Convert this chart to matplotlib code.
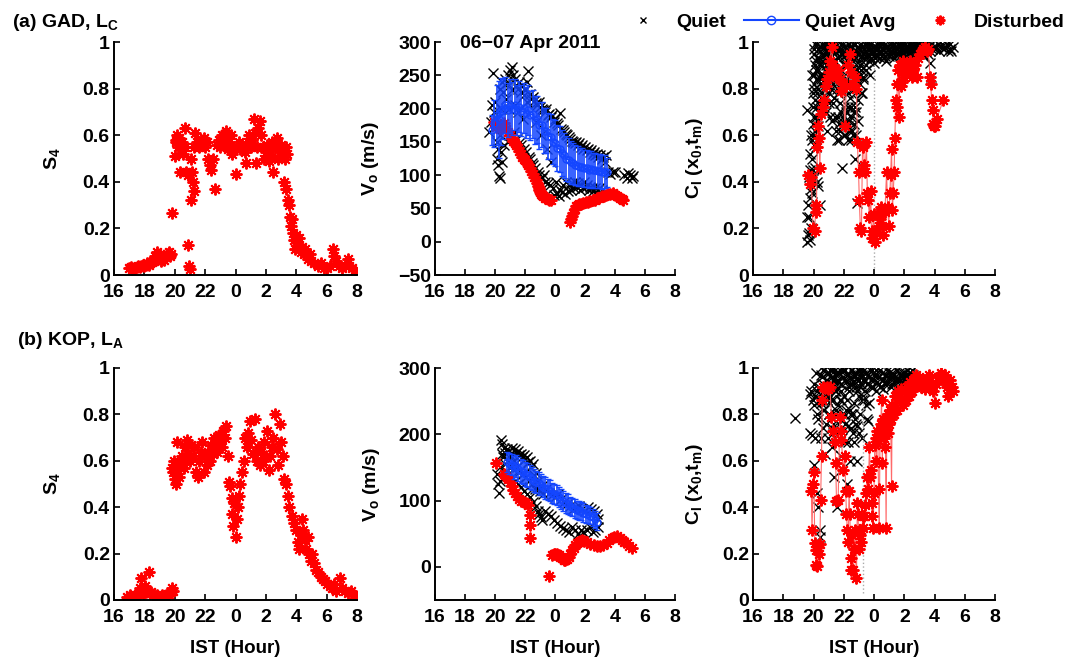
import numpy as np
import matplotlib
matplotlib.use("Agg")
import matplotlib.pyplot as plt
from matplotlib.lines import Line2D

plt.rcParams['font.family'] = ['Liberation Sans', 'DejaVu Sans']
plt.rcParams['font.weight'] = 'bold'
plt.rcParams['axes.labelweight'] = 'bold'
plt.rcParams['mathtext.fontset'] = 'custom'
plt.rcParams['mathtext.rm'] = 'Liberation Sans:bold'
plt.rcParams['mathtext.it'] = 'Liberation Sans:bold'
plt.rcParams['mathtext.bf'] = 'Liberation Sans:bold'
plt.rcParams['mathtext.default'] = 'bf'

# ---------------- data (time in IST hours, 24 = midnight) ----------------
xticks = [16, 18, 20, 22, 24, 26, 28, 30, 32]
xtick_labels = ['16', '18', '20', '22', '0', '2', '4', '6', '8']

# (a) GAD  S4 disturbed
gad_s4 = [(17.0,0.03),(17.1,0.035),(17.2,0.025),(17.3,0.03),(17.4,0.03),(17.5,0.035),(17.6,0.04),(17.7,0.035),
 (17.8,0.04),(17.9,0.045),(18.0,0.04),(18.1,0.045),(18.2,0.05),(18.3,0.045),(18.4,0.05),(18.5,0.055),(18.6,0.06),
 (18.7,0.08),(18.8,0.1),(18.9,0.07),(19.0,0.09),(19.1,0.06),(19.2,0.07),(19.3,0.065),(19.4,0.08),(19.5,0.09),
 (19.6,0.1),(19.7,0.08),(19.75,0.09),(19.8,0.265),(20.0,0.51),(20.05,0.57),(20.1,0.58),(20.15,0.6),(20.2,0.55),
 (20.3,0.59),(20.35,0.44),(20.4,0.56),(20.5,0.57),(20.55,0.52),(20.65,0.63),(20.7,0.55),(20.75,0.44),(20.85,0.43),
 (20.9,0.13),(20.95,0.04),(21.0,0.025),(21.05,0.32),(21.1,0.5),(21.15,0.44),(21.2,0.4),(21.25,0.36),(21.3,0.55),
 (21.35,0.61),(21.45,0.57),(21.6,0.55),(21.7,0.58),(21.8,0.56),(21.9,0.59),(22.0,0.55),(22.1,0.57),(22.2,0.5),
 (22.3,0.47),(22.4,0.45),(22.5,0.5),(22.65,0.37),(22.8,0.56),(22.9,0.58),(23.0,0.55),(23.1,0.6),(23.2,0.56),
 (23.3,0.58),(23.4,0.62),(23.5,0.54),(23.6,0.57),(23.7,0.6),(23.8,0.52),(24.0,0.435),(24.1,0.55),(24.2,0.57),
 (24.3,0.54),(24.4,0.56),(24.5,0.55),(24.6,0.53),(24.7,0.48),(24.8,0.57),(24.9,0.6),(25.0,0.55),(25.1,0.58),
 (25.2,0.67),(25.3,0.61),(25.35,0.48),(25.4,0.55),(25.5,0.63),(25.6,0.66),(25.7,0.6),(25.8,0.55),(25.9,0.5),
 (26.0,0.53),(26.1,0.56),(26.2,0.49),(26.3,0.52),(26.4,0.57),(26.5,0.44),(26.6,0.55),(26.7,0.59),(26.8,0.5),
 (26.9,0.53),(27.0,0.56),(27.1,0.52),(27.2,0.4),(27.25,0.5),(27.3,0.55),(27.35,0.37),(27.4,0.52),(27.45,0.32),
 (27.5,0.3),(27.6,0.25),(27.65,0.21),(27.7,0.24),(27.8,0.18),(27.85,0.15),(27.9,0.11),(28.0,0.17),(28.1,0.13),
 (28.2,0.16),(28.3,0.1),(28.4,0.12),(28.5,0.09),(28.6,0.11),(28.7,0.08),(28.8,0.07),(28.9,0.09),(29.0,0.06),
 (29.2,0.05),(29.4,0.04),(29.6,0.05),(29.8,0.03),(30.0,0.03),(30.2,0.04),(30.4,0.11),(30.5,0.08),(30.6,0.06),
 (30.8,0.04),(31.0,0.03),(31.2,0.04),(31.4,0.07),(31.5,0.04),(31.7,0.03),(31.9,0.02)]

# (a) GAD  drift velocity, quiet days
gad_vq = [(19.6,165),(19.75,180),(19.8,205),(19.9,253),(19.95,195),(20.0,210),(20.05,175),(20.1,150),(20.1,125),
 (20.15,185),(20.2,140),(20.2,115),(20.25,98),(20.3,95),(20.3,230),(20.35,160),(20.4,200),(20.4,135),(20.5,240),
 (20.5,120),(20.55,225),(20.6,145),(20.7,245),(20.75,215),(20.8,238),(20.85,150),(20.9,250),(20.95,200),
 (21.0,258),(21.05,160),(21.1,263),(21.15,228),(21.2,250),(21.25,165),(21.3,244),(21.35,205),(21.4,235),
 (21.45,155),(21.5,230),(21.55,195),(21.6,240),(21.65,150),(21.7,225),(21.75,145),(21.8,235),(21.85,185),
 (21.9,220),(21.95,140),(22.0,228),(22.05,135),(22.1,240),(22.15,210),(22.2,256),(22.25,128),(22.3,222),
 (22.35,125),(22.4,215),(22.45,118),(22.5,218),(22.55,115),(22.6,212),(22.65,110),(22.7,208),(22.75,180),
 (22.8,205),(22.85,105),(22.9,210),(22.95,100),(23.0,202),(23.05,160),(23.1,200),(23.15,95),(23.2,198),
 (23.25,100),(23.3,195),(23.35,90),(23.4,200),(23.45,140),(23.5,190),(23.55,88),(23.6,192),(23.65,85),
 (23.7,188),(23.75,120),(23.8,190),(23.85,80),(23.9,180),(23.95,70),(24.0,185),(24.05,90),(24.1,178),
 (24.15,72),(24.2,175),(24.25,68),(24.3,193),(24.35,78),(24.4,170),(24.45,74),(24.5,168),(24.55,85),(24.6,165),
 (24.65,72),(24.7,162),(24.75,90),(24.8,160),(24.85,76),(24.9,158),(24.95,85),(25.0,155),(25.05,78),(25.1,152),
 (25.15,88),(25.2,150),(25.25,80),(25.3,148),(25.35,90),(25.4,150),(25.45,82),(25.5,145),(25.55,88),(25.6,148),
 (25.65,78),(25.7,142),(25.75,85),(25.8,145),(25.85,80),(25.9,140),(25.95,90),(26.0,143),(26.05,82),(26.1,138),
 (26.15,85),(26.2,140),(26.25,78),(26.3,135),(26.35,82),(26.4,138),(26.45,80),(26.5,132),(26.55,76),(26.6,135),
 (26.65,80),(26.7,130),(26.75,75),(26.8,132),(26.85,78),(26.9,128),(26.95,80),(27.0,130),(27.1,125),(27.15,78),
 (27.2,128),(27.3,120),(27.4,130),(27.5,105),(27.7,102),(27.9,105),(28.0,104),(28.6,100),(28.8,95),(28.9,103),
 (29.0,100),(29.1,95),(29.2,98)]

gad_avg_t = [19.8,19.95,20.1,20.25,20.4,20.55,20.7,20.85,21.0,21.15,21.3,21.45,21.6,21.75,21.9,22.05,22.2,22.35,
 22.5,22.65,22.8,22.95,23.1,23.25,23.4,23.55,23.7,23.85,24.0,24.15,24.3,24.45,24.6,24.75,24.9,25.05,25.2,25.35,
 25.5,25.65,25.8,25.95,26.1,26.25,26.4,26.55,26.7,26.85,27.0,27.15,27.3,27.45]
gad_avg_v = [168,178,190,184,196,200,206,198,204,200,206,198,203,197,201,194,198,190,192,183,184,175,176,167,167,
 159,158,150,148,141,139,133,130,125,123,119,118,115,114,112,112,110,110,108,109,107,107,106,106,105,105,104]
gad_avg_e = [22,35,45,58,50,45,42,40,40,40,38,38,38,38,38,38,37,37,36,36,35,35,34,34,34,34,34,34,35,35,35,35,34,34,
 33,32,31,30,30,29,29,28,28,28,27,27,27,26,26,26,25,22]

gad_vd = [(19.95,180),(20.05,172),(20.15,176),(20.3,170),(20.45,174),(20.6,178),(20.75,170),(20.9,165),
 (21.0,160),(21.1,156),(21.2,152),(21.3,148),(21.4,145),(21.5,141),(21.6,137),(21.7,132),(21.8,128),(21.9,125),
 (22.0,122),(22.1,118),(22.2,115),(22.3,110),(22.4,106),(22.5,101),(22.6,97),(22.7,92),(22.8,88),(22.85,84),
 (22.9,80),(22.95,77),(23.0,75),(23.05,72),(23.1,70),(23.2,68),(23.3,66),(23.4,65),(23.5,64),(23.6,63),(23.7,63),
 (25.0,30),(25.05,34),(25.1,38),(25.2,43),(25.3,49),(25.4,53),(25.5,55),(25.6,56),(25.75,57),(25.9,58),(26.05,59),
 (26.2,60),(26.35,61),(26.5,62),(26.65,63),(26.8,65),(26.95,66),(27.1,68),(27.25,69),(27.4,70),(27.55,71),
 (27.7,72),(27.85,73),(28.0,70),(28.15,68),(28.3,66),(28.45,64),(28.55,62)]

# (a) GAD  correlation, quiet days
gad_cq = [(19.55,0.71),(19.6,0.14),(19.65,0.17),(19.7,0.42),(19.72,0.25),(19.75,0.33),(19.8,0.15),(19.82,0.37),
 (19.85,0.2),(19.88,0.5),(19.9,0.41),(19.92,0.58),(19.95,0.65),(19.97,0.72),(20.0,0.8),(20.02,0.86),(20.05,0.6),
 (20.08,0.9),(20.1,0.46),(20.12,0.75),(20.15,0.68),(20.18,0.55),(20.2,0.84),(20.22,0.4),(20.25,0.78),(20.28,0.64),
 (20.3,0.88),(20.32,0.38),(20.35,0.93),(20.38,0.7),(20.4,0.3),(20.42,0.82),(20.45,0.96),(20.5,0.76),(20.55,0.99),
 (20.6,0.86),(20.65,0.92),(20.7,0.8),(20.75,0.97),(20.8,0.88),(20.85,0.95),(20.9,0.99),(20.95,0.84),(21.0,0.93),
 (21.05,0.78),(21.1,0.98),(21.15,0.9),(21.2,0.66),(21.25,0.96),(21.3,0.82),(21.35,0.99),(21.4,0.68),(21.45,0.92),
 (21.5,0.86),(21.55,0.58),(21.6,0.97),(21.65,0.78),(21.7,0.94),(21.75,0.62),(21.8,0.99),(21.85,0.88),(21.9,0.46),
 (21.95,0.95),(22.0,0.72),(22.05,0.98),(22.1,0.6),(22.15,0.9),(22.2,0.84),(22.25,0.99),(22.3,0.64),(22.35,0.93),
 (22.4,0.76),(22.45,0.97),(22.5,0.58),(22.55,0.88),(22.6,0.99),(22.65,0.7),(22.7,0.94),(22.75,0.5),(22.8,0.86),
 (22.85,0.98),(22.9,0.31),(22.95,0.75),(23.0,0.92),(23.05,0.82),(23.1,0.97),(23.15,0.88),(23.2,0.78),(23.25,0.95),
 (23.3,0.85),(23.4,0.99),(23.45,0.9),(23.5,0.94),(23.6,0.97),(23.7,0.92),(23.8,0.99),(23.9,0.95),(24.0,0.91),
 (24.1,0.98),(24.2,0.94),(24.3,0.99),(24.4,0.93),(24.5,0.97),(24.6,0.95),(24.7,0.99),(24.8,0.92),(24.9,0.97),
 (25.0,0.94),(25.1,0.99),(25.2,0.96),(25.3,0.93),(25.4,0.98),(25.5,0.95),(25.6,0.99),(25.7,0.94),(25.8,0.97),
 (25.9,0.99),(26.0,0.95),(26.1,0.98),(26.2,0.93),(26.3,0.99),(26.4,0.96),(26.5,0.98),(26.6,0.94),(26.7,0.99),
 (26.8,0.97),(26.9,0.95),(27.0,0.99),(27.1,0.96),(27.2,0.98),(27.3,0.94),(27.4,0.99),(27.5,0.97),(27.6,0.95),
 (27.7,0.91),(27.75,0.85),(27.8,0.99),(27.9,0.98),(28.0,0.97),(28.2,0.99),(28.4,0.98),(28.6,0.97),(28.8,0.99),
 (29.0,0.97),(29.1,0.96),(29.2,0.98),
 (20.05,0.97),(20.15,0.92),(20.25,0.99),(20.35,0.85),(20.45,0.9),(20.6,0.95),(20.7,0.72),(20.85,0.9),(20.95,0.96),
 (21.05,0.87),(21.2,0.94),(21.3,0.74),(21.45,0.98),(21.6,0.85),(21.7,0.65),(21.85,0.97),(22.0,0.9),(22.1,0.8),
 (22.2,0.95),(22.3,0.72),(22.4,0.88),(22.5,0.68),(22.6,0.92),(22.7,0.82),(22.8,0.6),(22.9,0.95),(23.0,0.86),
 (23.1,0.9),(23.2,0.98),(23.35,0.93),(23.5,0.88),(23.65,0.99),(23.75,0.86),(23.85,0.96),(24.05,0.93),(24.25,0.97),
 (24.45,0.99),(24.65,0.93),(24.85,0.98),(25.05,0.96),(25.25,0.99),(25.45,0.97),(25.65,0.95),(25.85,0.99),
 (26.05,0.97),(26.25,0.95),(26.45,0.99),(26.65,0.97),(26.85,0.99),(27.05,0.97),(27.25,0.96),(27.45,0.98),
 (20.02,0.95),(20.12,0.99),(20.22,0.93),(20.32,0.97),(20.42,0.91),(20.52,0.98),(20.62,0.94),(20.72,0.99),
 (20.82,0.92),(20.92,0.96),(21.02,0.99),(21.12,0.94),(21.22,0.98),(21.32,0.92),(21.42,0.96),(21.52,0.99),
 (21.62,0.93),(21.72,0.97),(21.82,0.95),(21.92,0.99),(22.02,0.94),(22.12,0.97),(22.22,0.92),(22.32,0.99),
 (22.42,0.95),(22.52,0.98),(22.62,0.93),(22.72,0.99),(22.82,0.96),(22.92,0.98),(23.02,0.95),(23.12,0.99),
 (23.22,0.94),(23.32,0.97),(23.42,0.96),(23.52,0.99),(23.62,0.94),(23.72,0.97),(23.82,0.93),(23.92,0.98),
 (24.02,0.96),(24.12,0.94),(24.22,0.99),(24.32,0.96),(24.42,0.95),(24.52,0.99),(24.62,0.97),(24.72,0.94),
 (24.82,0.98),(24.92,0.95),(25.02,0.97),(25.12,0.95),(25.22,0.98),(25.32,0.99),(25.42,0.95),(25.52,0.97),
 (25.62,0.96),(25.72,0.99),(25.82,0.95),(25.92,0.97),(26.02,0.99),(26.12,0.96),(26.22,0.98),(26.32,0.95),
 (26.42,0.97),(26.52,0.99),(26.62,0.96),(26.72,0.95),(26.82,0.98),(26.92,0.99),(27.02,0.96),(27.12,0.98),
 (27.22,0.95),(27.32,0.97),(27.42,0.96),(27.52,0.99),(27.62,0.98),(27.72,0.96),(27.82,0.97),(28.1,0.98),
 (28.3,0.96),(28.5,0.99),(28.7,0.98),(28.9,0.96),(29.05,0.99),
 (19.9,0.86),(19.95,0.78),(20.0,0.68),(20.05,0.82),(20.1,0.62),(20.15,0.88),(20.2,0.72),(20.25,0.66),(20.3,0.8),
 (20.35,0.74),(20.4,0.86),(20.45,0.7),(20.5,0.84),(20.55,0.78),(20.6,0.72),(20.65,0.86),(20.75,0.84),(20.85,0.76),
 (20.95,0.9),(21.05,0.86),(21.15,0.8),(21.25,0.88),(21.35,0.76),(21.45,0.84),(21.55,0.8),(21.65,0.88),(21.75,0.74),
 (21.85,0.8),(21.95,0.68),(22.05,0.84),(22.15,0.7),(22.25,0.78),(22.35,0.66),(22.45,0.82),(22.55,0.62),(22.65,0.8),
 (22.75,0.72),(22.85,0.88),(22.95,0.66),(23.05,0.9),(23.15,0.78),(23.25,0.84),
 (19.6,0.25),(19.65,0.3),(19.7,0.18),(19.75,0.45),(19.8,0.52),(19.85,0.6),(19.9,0.35),(19.95,0.45),(20.0,0.56),
 (20.05,0.42),
 (20.8,0.7),(20.9,0.62),(21.0,0.74),(21.1,0.68),(21.5,0.62),(21.6,0.68),(21.7,0.58),(21.8,0.7),(21.9,0.64),
 (22.0,0.6),(22.1,0.66),(22.2,0.7),(22.3,0.58),(22.4,0.62),(22.5,0.72),(22.6,0.6),(22.7,0.65),(22.8,0.7)]

gad_cd = [(19.64,0.43),(19.75,0.39),(19.85,0.42),(19.97,0.2),(20.08,0.19),(20.15,0.3),(20.19,0.27),(20.25,0.55),
 (20.3,0.64),(20.36,0.59),(20.42,0.46),(20.5,0.69),(20.6,0.72),(20.7,0.75),(20.8,0.81),(20.9,0.84),(21.0,0.87),
 (21.1,0.92),(21.2,0.98),(21.3,0.9),(21.42,0.86),(21.52,0.85),(21.63,0.88),(21.74,0.84),(21.85,0.79),(21.96,0.82),
 (22.07,0.64),(22.18,0.81),(22.29,0.9),(22.4,0.95),(22.51,0.87),(22.62,0.82),(22.73,0.85),(22.84,0.8),
 (22.9,0.57),(22.98,0.44),(23.03,0.32),(23.1,0.2),(23.17,0.19),(23.24,0.55),(23.3,0.56),(23.36,0.47),
 (23.42,0.44),(23.5,0.57),(23.56,0.35),(23.62,0.32),(23.7,0.25),(23.78,0.36),(23.84,0.16),(23.9,0.19),
 (23.98,0.26),(24.06,0.14),(24.14,0.18),(24.22,0.26),(24.3,0.21),(24.38,0.24),(24.46,0.29),(24.54,0.21),
 (24.62,0.17),(24.72,0.27),(24.83,0.44),(24.9,0.29),(24.98,0.21),(25.05,0.35),(25.1,0.43),(25.16,0.54),
 (25.22,0.28),(25.27,0.35),(25.33,0.44),(25.38,0.59),(25.44,0.75),(25.49,0.72),(25.55,0.82),(25.6,0.88),
 (25.66,0.68),(25.71,0.9),(25.77,0.81),(25.82,0.87),(25.88,0.83),(25.93,0.92),(26.0,0.85),(26.07,0.89),
 (26.15,0.87),(26.25,0.9),(26.38,0.92),(26.5,0.85),(26.6,0.88),(26.72,0.9),(26.82,0.85),(26.93,0.93),
 (27.05,0.95),(27.15,0.96),(27.27,0.97),(27.37,0.98),(27.48,0.96),(27.59,0.97),(27.7,0.85),(27.75,0.82),
 (27.81,0.75),(27.87,0.71),(27.92,0.65),(27.97,0.64),(28.03,0.64),(28.14,0.67),(28.58,0.75)]

# (b) KOP  S4 disturbed
kop_s4 = [(16.85,0.015),(16.95,0.01),(17.05,0.02),(17.15,0.01),(17.25,0.015),(17.35,0.02),(17.45,0.015),
 (17.55,0.025),(17.65,0.03),(17.7,0.05),(17.8,0.094),(17.85,0.04),(17.95,0.03),(18.05,0.06),(18.1,0.035),
 (18.2,0.04),(18.3,0.12),(18.35,0.03),(18.45,0.035),(18.55,0.02),(18.65,0.025),(18.75,0.015),(18.85,0.02),
 (18.95,0.01),(19.05,0.015),(19.15,0.02),(19.25,0.01),(19.35,0.015),(19.45,0.02),(19.55,0.025),(19.65,0.02),
 (19.75,0.035),(19.85,0.05),(19.9,0.04),(19.85,0.57),(19.9,0.55),(19.95,0.6),(20.0,0.52),(20.05,0.58),
 (20.1,0.5),(20.15,0.68),(20.2,0.56),(20.3,0.53),(20.4,0.59),(20.5,0.62),(20.6,0.57),(20.7,0.66),(20.8,0.69),
 (20.9,0.63),(21.0,0.6),(21.1,0.67),(21.2,0.62),(21.3,0.66),(21.4,0.55),(21.5,0.53),(21.6,0.6),(21.7,0.64),
 (21.8,0.68),(21.9,0.55),(22.0,0.62),(22.1,0.58),(22.2,0.64),(22.3,0.6),(22.4,0.67),(22.5,0.63),(22.6,0.7),
 (22.7,0.66),(22.8,0.64),(22.9,0.71),(23.0,0.68),(23.1,0.66),(23.2,0.73),(23.3,0.7),(23.4,0.75),(23.5,0.62),
 (23.55,0.51),(23.65,0.49),(23.75,0.44),(23.8,0.37),(23.85,0.32),(23.9,0.42),(24.0,0.27),(24.1,0.35),
 (24.15,0.4),(24.25,0.45),(24.3,0.5),(24.45,0.55),(24.55,0.6),(24.65,0.7),(24.75,0.66),(24.85,0.72),
 (24.95,0.77),(25.05,0.69),(25.15,0.63),(25.3,0.78),(25.4,0.6),(25.5,0.66),(25.6,0.58),(25.7,0.64),(25.8,0.6),
 (25.9,0.68),(26.0,0.62),(26.1,0.73),(26.2,0.56),(26.3,0.62),(26.4,0.66),(26.5,0.7),(26.6,0.8),(26.7,0.65),
 (26.8,0.58),(26.9,0.76),(27.0,0.68),(27.1,0.62),(27.2,0.52),(27.3,0.5),(27.45,0.45),(27.55,0.4),(27.7,0.36),
 (27.85,0.33),(28.0,0.3),(28.1,0.25),(28.2,0.22),(28.3,0.28),(28.4,0.35),(28.45,0.3),(28.55,0.26),(28.65,0.22),
 (28.75,0.27),(28.85,0.2),(28.95,0.17),(29.05,0.2),(29.15,0.16),(29.3,0.13),(29.45,0.12),(29.6,0.1),(29.75,0.09),
 (29.9,0.08),(30.05,0.07),(30.2,0.06),(30.35,0.05),(30.5,0.07),(30.65,0.04),(30.9,0.094),(31.0,0.05),
 (31.2,0.04),(31.4,0.03),(31.6,0.04),(31.8,0.02),(31.95,0.015)]

kop_vq = [(20.15,140),(20.2,125),(20.25,112),(20.3,130),(20.35,150),(20.38,191),(20.45,185),(20.5,170),
 (20.55,165),(20.6,180),(20.65,155),(20.7,172),(20.75,145),(20.8,178),(20.85,160),(20.9,140),(20.95,175),
 (21.0,168),(21.05,150),(21.1,180),(21.15,135),(21.2,170),(21.25,160),(21.3,178),(21.35,130),(21.4,172),
 (21.45,150),(21.5,175),(21.55,125),(21.6,168),(21.65,145),(21.7,170),(21.75,120),(21.8,165),(21.85,140),
 (21.9,168),(21.95,115),(22.0,162),(22.05,135),(22.1,165),(22.15,110),(22.2,158),(22.25,130),(22.3,160),
 (22.35,105),(22.4,150),(22.45,125),(22.5,155),(22.55,98),(22.6,138),(22.65,118),(22.7,142),(22.75,92),
 (22.8,128),(22.85,85),(22.9,120),(22.95,80),(23.0,115),(23.05,75),(23.1,122),(23.15,70),(23.2,110),(23.3,85),
 (23.4,118),(23.5,80),(23.6,112),(23.7,76),(23.8,108),(23.9,70),(24.0,105),(24.1,66),(24.2,110),(24.3,62),
 (24.4,102),(24.5,58),(24.6,98),(24.7,55),(24.8,95),(24.9,52),(25.0,92),(25.1,60),(25.2,88),(25.3,55),(25.4,90),
 (25.5,50),(25.6,92),(25.7,56),(25.8,88),(25.9,52),(26.0,85),(26.1,55),(26.2,90),(26.3,60),(26.4,88),(26.5,52),
 (26.6,84),(26.7,55),(26.8,80),(26.85,60),(26.9,72)]

kop_avg_t = [20.8,20.95,21.1,21.25,21.4,21.55,21.7,21.85,22.0,22.15,22.3,22.45,22.6,22.75,22.9,23.05,23.2,23.35,
 23.5,23.65,23.8,23.95,24.1,24.25,24.4,24.55,24.7,24.85,25.0,25.15,25.3,25.45,25.6,25.75,25.9,26.05,26.2,26.35,
 26.5,26.65,26.8]
kop_avg_v = [158,156,154,150,152,147,145,143,140,138,135,133,130,128,126,124,121,119,117,115,112,110,108,105,
 103,100,97,95,92,90,88,86,85,84,82,80,79,77,75,72,68]
kop_avg_e = [15,16,16,17,17,18,18,18,18,18,18,17,17,17,17,16,16,16,16,16,15,15,15,15,15,15,15,15,14,14,14,14,14,
 14,14,14,13,13,13,13,13]

kop_vd = [(20.05,156),(20.6,140),(20.7,138),(20.8,136),(20.9,132),(21.0,128),(21.1,122),(21.2,116),(21.3,112),
 (21.45,107),(21.6,103),(21.75,100),(21.9,98),(22.05,96),(22.2,93),(22.3,78),(22.3,63),(22.35,43),
 (23.59,-14),(23.81,18),(23.92,19),(24.03,20),(24.14,19),(24.25,18),(24.36,15),(24.47,13),(24.58,11),(24.69,10),
 (24.8,12),(24.92,15),(25.03,20),(25.14,25),(25.25,29),(25.36,33),(25.47,36),(25.58,38),(25.69,39),(25.8,40),
 (25.95,39),(26.13,37),(26.35,35),(26.58,33),(26.8,32),(27.0,31),(27.23,33),(27.46,36),(27.62,40),(27.79,43),
 (27.95,45),(28.12,46),(28.3,44),(28.46,41),(28.62,38),(28.79,36),(28.95,32),(29.12,28)]

kop_cq = [(18.76,0.784),(19.75,0.89),(19.8,0.72),(19.85,0.9),(19.9,0.71),(19.95,0.86),(20.0,0.93),(20.05,0.58),
 (20.1,0.88),(20.15,0.98),(20.2,0.46),(20.25,0.8),(20.3,0.4),(20.35,0.92),(20.4,0.3),(20.45,0.27),(20.5,0.85),
 (20.55,0.96),(20.6,0.74),(20.65,0.99),(20.7,0.82),(20.75,0.63),(20.8,0.95),(20.85,0.88),(20.9,0.98),(20.95,0.7),
 (21.0,0.92),(21.05,0.8),(21.1,0.99),(21.15,0.86),(21.2,0.66),(21.25,0.96),(21.3,0.76),(21.35,0.53),(21.4,0.9),
 (21.45,0.99),(21.5,0.82),(21.55,0.4),(21.6,0.94),(21.65,0.72),(21.7,0.98),(21.75,0.86),(21.8,0.62),(21.85,0.93),
 (21.9,0.78),(21.95,0.99),(22.0,0.88),(22.05,0.68),(22.1,0.95),(22.15,0.82),(22.2,0.5),(22.25,0.97),(22.3,0.75),
 (22.35,0.9),(22.4,0.6),(22.45,0.99),(22.5,0.8),(22.55,0.93),(22.6,0.72),(22.65,0.96),(22.7,0.85),(22.75,0.78),
 (22.8,0.98),(22.85,0.9),(22.9,0.75),(22.95,0.95),(23.0,0.88),(23.05,0.97),(23.1,0.92),(23.15,0.99),(23.2,0.86),
 (23.3,0.95),(23.4,0.9),(23.5,0.98),(23.55,0.78),(23.6,0.93),(23.65,0.85),(23.7,0.96),(23.8,0.92),(23.9,0.99),
 (24.0,0.95),(24.1,0.9),(24.2,0.97),(24.3,0.93),(24.4,0.99),(24.5,0.95),(24.6,0.91),(24.7,0.97),(24.8,0.94),
 (24.9,0.99),(25.0,0.96),(25.1,0.92),(25.2,0.98),(25.3,0.94),(25.4,0.96),(25.5,0.99),(25.6,0.95),(25.7,0.97),
 (25.8,0.93),(25.9,0.98),(26.0,0.96),(26.1,0.94),(26.2,0.99),(26.3,0.96),(26.4,0.98),(26.5,0.95),(26.6,0.97),
 (20.6,0.9),(20.9,0.86),(21.2,0.93),(21.5,0.97),(21.8,0.9),(22.1,0.99),(22.4,0.93),(22.7,0.97),(23.0,0.99),
 (23.3,0.88),(23.35,0.86),(23.45,0.84),(23.6,0.77),
 (20.52,0.97),(20.62,0.93),(20.72,0.99),(20.82,0.91),(20.92,0.95),(21.02,0.98),(21.12,0.93),(21.22,0.99),
 (21.32,0.95),(21.42,0.92),(21.52,0.98),(21.62,0.95),(21.72,0.99),(21.82,0.93),(21.92,0.96),(22.02,0.99),
 (22.12,0.94),(22.22,0.97),(22.32,0.92),(22.42,0.96),(22.52,0.99),(22.62,0.94),(22.72,0.97),(22.82,0.92),
 (22.92,0.99),(23.02,0.95),(23.12,0.93),(23.22,0.97),(23.32,0.99),(23.42,0.95),(23.52,0.93),(23.62,0.97),
 (23.72,0.99),(23.82,0.95),(23.92,0.92),(24.02,0.97),(24.12,0.99),(24.22,0.94),(24.32,0.96),(24.42,0.92),
 (24.52,0.98),(24.62,0.95),(24.72,0.93),(24.82,0.97),(24.92,0.94),(25.02,0.98),(25.12,0.96),(25.22,0.93),
 (25.32,0.97),(25.42,0.95),(25.52,0.92),(25.62,0.98),(25.72,0.95),(25.82,0.97),(25.92,0.94),(26.02,0.98),
 (26.12,0.96),(26.22,0.93),(26.32,0.97),(26.42,0.95),(26.52,0.99),
 (20.05,0.84),(20.1,0.7),(20.2,0.9),(20.3,0.78),(20.4,0.86),(20.5,0.7),(20.6,0.82),(20.7,0.9),(20.8,0.76),
 (20.9,0.86),(21.0,0.8),(21.1,0.88),(21.2,0.74),(21.3,0.86),(21.4,0.8),(21.5,0.9),(21.6,0.84),(21.7,0.76),
 (21.8,0.86),(21.9,0.7),(22.0,0.8),(22.1,0.76),(22.2,0.86),(22.3,0.68),(22.4,0.82),(22.5,0.74),(22.6,0.8),
 (22.7,0.68),(22.8,0.76),(22.9,0.6),(23.0,0.72),(23.1,0.8),(23.2,0.7)]

kop_cd = [(19.86,0.47),(19.9,0.3),(19.97,0.5),(20.03,0.55),(20.08,0.245),(20.14,0.216),(20.19,0.15),(20.25,0.145),
 (20.3,0.23),(20.36,0.2),(20.42,0.24),(20.47,0.43),(20.53,0.62),(20.58,0.86),(20.64,0.92),(20.75,0.915),
 (20.86,0.92),(20.97,0.91),(21.08,0.92),(21.19,0.79),(21.3,0.73),(21.41,0.68),(21.47,0.59),(21.52,0.425),
 (21.63,0.43),(21.74,0.79),(21.8,0.73),(21.85,0.69),(21.96,0.56),(22.07,0.62),(22.13,0.47),(22.18,0.37),
 (22.24,0.3),(22.29,0.25),(22.35,0.47),(22.4,0.37),(22.46,0.18),(22.51,0.13),(22.57,0.28),(22.62,0.13),
 (22.68,0.22),(22.73,0.3),(22.84,0.095),(22.9,0.42),(22.95,0.37),(23.0,0.22),(23.06,0.28),(23.12,0.3),
 (23.17,0.25),(23.25,0.36),(23.3,0.31),(23.36,0.36),(23.42,0.41),(23.48,0.46),(23.55,0.53),(23.62,0.48),
 (23.7,0.66),(23.75,0.53),(23.8,0.56),(23.85,0.42),(23.9,0.36),(23.95,0.31),(24.0,0.46),(24.05,0.67),
 (24.1,0.7),(24.15,0.6),(24.2,0.73),(24.25,0.69),(24.3,0.48),(24.35,0.31),(24.4,0.73),(24.45,0.76),(24.5,0.86),
 (24.55,0.59),(24.6,0.78),(24.65,0.7),(24.7,0.66),(24.75,0.74),(24.8,0.31),(24.85,0.79),(24.9,0.72),
 (24.95,0.8),(25.0,0.76),(25.05,0.82),(25.1,0.78),(25.16,0.49),(25.2,0.84),(25.3,0.8),(25.4,0.88),(25.5,0.82),
 (25.6,0.9),(25.7,0.86),(25.8,0.91),(25.9,0.84),(26.0,0.9),(26.1,0.86),(26.2,0.92),(26.3,0.88),(26.4,0.94),
 (26.5,0.9),(26.6,0.95),(26.7,0.92),(26.8,0.97),(26.9,0.93),(27.0,0.96),(27.1,0.92),(27.2,0.95),(27.35,0.91),
 (27.5,0.94),(27.65,0.97),(27.8,0.93),(27.9,0.9),(28.03,0.85),(28.1,0.93),(28.25,0.96),(28.4,0.98),
 (28.55,0.95),(28.7,0.97),(28.8,0.92),(28.91,0.88),(29.0,0.95),(29.13,0.92),(29.2,0.9)]

# reference (midnight) dotted lines in the correlation panels
gad_ref_t = 24.0
kop_ref_t = 23.3

# ---------------- styling ----------------
RED = '#ff0000'
RED_LINE = '#ff6a6a'
BLUE = '#1446ff'
AST = (8, 2, 0)
FS = 14

fig = plt.figure(figsize=(10.81, 6.64), dpi=100)
W, H = 1081, 664

def ax_at(x0, x1, ytop, ybot):
    return fig.add_axes([x0 / W, 1 - ybot / H, (x1 - x0) / W, (ybot - ytop) / H])

def style(ax, ylim, yticks, ylabels, ylabel, labelpad):
    ax.set_xlim(16, 32)
    ax.set_ylim(*ylim)
    ax.set_xticks(xticks)
    ax.set_xticklabels(xtick_labels)
    ax.set_yticks(yticks)
    ax.set_yticklabels(ylabels)
    for s in ('top', 'right'):
        ax.spines[s].set_visible(False)
    for s in ('left', 'bottom'):
        ax.spines[s].set_linewidth(1.4)
    ax.tick_params(direction='in', length=4, width=1.2, labelsize=FS)
    ax.tick_params(axis='x', pad=6.5)
    ax.tick_params(axis='y', pad=3)
    ax.set_ylabel(ylabel, fontsize=FS, labelpad=labelpad)

def unzip(pairs):
    a = np.array(pairs, dtype=float)
    return a[:, 0], a[:, 1]

s4_ticks = [0, 0.2, 0.4, 0.6, 0.8, 1]
s4_labels = ['0', '0.2', '0.4', '0.6', '0.8', '1']

rows = [
    dict(ytop=42, ybot=275, s4=gad_s4, vq=gad_vq, at=gad_avg_t, av=gad_avg_v, ae=gad_avg_e, vd=gad_vd,
         cq=gad_cq, cd=gad_cd, ref=gad_ref_t,
         vticks=[-50, 0, 50, 100, 150, 200, 250, 300],
         vlabels=['\u221250', '0', '50', '100', '150', '200', '250', '300']),
    dict(ytop=368, ybot=600, s4=kop_s4, vq=kop_vq, at=kop_avg_t, av=kop_avg_v, ae=kop_avg_e, vd=kop_vd,
         cq=kop_cq, cd=kop_cd, ref=kop_ref_t,
         vticks=[0, 100, 200, 300], vlabels=['0', '100', '200', '300']),
]

for i, r in enumerate(rows):
    a1 = ax_at(114, 357, r['ytop'], r['ybot'])
    a2 = ax_at(435, 675, r['ytop'], r['ybot'])
    a3 = ax_at(753, 995, r['ytop'], r['ybot'])

    t, v = unzip(r['s4'])
    a1.plot(t, v, ls='none', marker=AST, ms=8.5, mew=1.4, color=RED)
    style(a1, (0, 1), s4_ticks, s4_labels, 'S$_4$', 15)

    t, v = unzip(r['vq'])
    a2.plot(t, v, ls='none', marker='x', ms=7, mew=1.0, color='k')
    t, v = unzip(r['vd'])
    a2.plot(t, v, ls='none', marker=AST, ms=8.5, mew=1.4, color=RED)
    a2.errorbar(r['at'], r['av'], yerr=r['ae'], color=BLUE, marker='o', mfc='none', ms=5, mew=1.0,
                lw=1.2, elinewidth=1.2, capsize=2.5, capthick=1.2)
    style(a2, (-50, 300), r['vticks'], r['vlabels'], 'V$_o$ (m/s)', 12)

    t, v = unzip(r['cq'])
    a3.plot(t, v, ls='none', marker='x', ms=7, mew=1.0, color='k')
    a3.axvline(r['ref'], ymin=0.03, ymax=0.9, color='#aaaaaa', ls=':', lw=1.0)
    t, v = unzip(r['cd'])
    a3.plot(t, v, ls='-', lw=0.8, color=RED_LINE)
    a3.plot(t, v, ls='none', marker=AST, ms=8.5, mew=1.4, color=RED)
    style(a3, (0, 1), s4_ticks, s4_labels, 'C$_I$ (x$_0$,t$_m$)', 12)

    if i == 1:
        for a in (a1, a2, a3):
            a.set_xlabel('IST (Hour)', fontsize=13.5, labelpad=10)

fig.text(12 / W, 1 - 27 / H, '(a) GAD, L$_C$', fontsize=FS, va='baseline', ha='left')
fig.text(17 / W, 1 - 345 / H, '(b) KOP, L$_A$', fontsize=FS, va='baseline', ha='left')
fig.text(530 / W, 1 - 43 / H, '06\u221207 Apr 2011', fontsize=FS, va='center', ha='center')

handles = [Line2D([], [], color='k', marker='x', ls='none', ms=5, mew=1.0),
           Line2D([], [], color=BLUE, marker='o', mfc='none', ms=6, lw=1.5),
           Line2D([], [], color=RED, marker=AST, ls='none', ms=7, mew=1.5)]
fig.legend(handles, ['Quiet', 'Quiet Avg', 'Disturbed'], loc='center left',
           bbox_to_anchor=(615 / W, 1 - 22 / H), ncol=3, frameon=False, fontsize=FS,
           handlelength=2.85, handletextpad=0.3, columnspacing=0.9, borderpad=0, borderaxespad=0)

fig.savefig('out.png', dpi=100)
